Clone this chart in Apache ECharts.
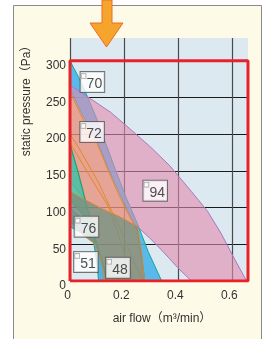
<!DOCTYPE html>
<html>
<head>
<meta charset="utf-8">
<script src="https://cdn.jsdelivr.net/npm/echarts@6/dist/echarts.min.js"></script>
<style>
  html, body { margin: 0; padding: 0; background: #fff; }
  #chart { width: 266px; height: 339px; }
</style>
</head>
<body>
<div id="chart"></div>
<script>
// ===== axis ticks =====
const xTicks = [0, 0.2, 0.4, 0.6];            // air flow m3/min
const yTicks = [0, 50, 100, 150, 200, 250, 300]; // static pressure Pa
const xMax = 0.66;
const yMax = 331;

// ===== fan ranges: [flow, pressure], upper curve and lower curve =====
const fan70Upper = [[0, 300], [0.03, 279], [0.065, 251], [0.1, 220], [0.13, 190], [0.17, 150], [0.21, 112], [0.25, 78], [0.29, 40], [0.34, 0]];
const fan70Lower = [[0, 262], [0.046, 226], [0.1, 192], [0.14, 155], [0.18, 122], [0.215, 95], [0.25, 70], [0.265, 35], [0.277, 0]];

const fan94Upper = [[0, 267], [0.065, 251], [0.15, 230], [0.22, 208], [0.3, 182], [0.37, 157], [0.45, 122], [0.51, 95], [0.56, 65], [0.61, 30], [0.655, 0]];
const fan94Lower = [[0, 135], [0.058, 110], [0.12, 98], [0.18, 88], [0.25, 74], [0.3, 57], [0.35, 38], [0.4, 18], [0.45, 0]];

const fan72Upper = [[0, 258], [0.046, 222], [0.1, 188], [0.14, 152], [0.18, 118], [0.215, 92], [0.25, 68], [0.263, 35], [0.275, 0]];
const fan72Lower = [[0, 188], [0.03, 150], [0.058, 110], [0.08, 80], [0.1, 40], [0.115, 0]];

// extra curve pair crossing the 72 range
const fan72bUpper = [[0, 200], [0.03, 183], [0.106, 134], [0.188, 69], [0.27, 0]];
const fan72bLower = [[0, 188], [0.07, 145], [0.143, 101], [0.2, 40], [0.235, 0]];

const fan48Upper = [[0, 186], [0.03, 148], [0.058, 108], [0.08, 78], [0.1, 50], [0.125, 20], [0.135, 0]];
const fan48Lower = [[0, 110], [0.06, 85], [0.1, 45], [0.125, 0]];

const fan51Upper = [[0, 100], [0.06, 80], [0.1, 50], [0.125, 20], [0.135, 0]];
const fan51Lower = [[0, 74], [0.05, 64], [0.087, 54], [0.1, 25], [0.106, 0]];

const fan76Upper = [[0, 122], [0.058, 110], [0.12, 98], [0.18, 88], [0.25, 74], [0.265, 40], [0.277, 0]];
const fan76Lower = [[0, 80], [0.05, 62], [0.087, 52], [0.106, 38], [0.12, 20], [0.13, 0]];

// ===== model labels and where they sit =====
const labelNames = ['70', '72', '94', '76', '51', '48'];
const labelSpots = [[0.083, 271], [0.082, 203], [0.316, 123], [0.061, 74], [0.059, 26], [0.178, 18]];

// red frame corners
const frame = [[0, 0], [xMax, 0], [xMax, 300], [0, 300], [0, 0]];

const font = '"Liberation Sans", "Noto Sans CJK JP", sans-serif';

// one filled band between two curves
function band(name, upper, lower, fill, edge) {
  const outline = upper.concat(lower.slice().reverse());
  return {
    name: name,
    type: 'custom',
    silent: true,
    data: outline,
    encode: { x: 0, y: 1 },
    renderItem: (params, api) => {
      if (params.dataIndex !== 0) return null;
      return {
        type: 'polygon',
        shape: { points: outline.map(p => api.coord(p)) },
        style: { fill: fill, stroke: edge, lineWidth: 1 }
      };
    }
  };
}

const chart = echarts.init(document.getElementById('chart'));

const option = {
  animation: false,
  textStyle: { fontFamily: font },
  graphic: [
    {
      type: 'rect', z: -100, silent: true,
      shape: { x: 13.5, y: 5.5, width: 248, height: 340 },
      style: { fill: '#fefae8', stroke: '#8a8a8a', lineWidth: 1 }
    },
    {
      type: 'polygon', z: 100, silent: true,
      shape: { points: [[102, 0], [112, 0], [112, 23], [123, 23], [106.5, 47], [90, 23], [102, 23]] },
      style: { fill: '#f5a52c', stroke: '#ee6a2c', lineWidth: 1 }
    },
    {
      type: 'text', z: 100, silent: true,
      x: 27, y: 98, rotation: Math.PI / 2,
      style: { text: 'static pressure（Pa）', font: '12px ' + font, fill: '#333', align: 'center', verticalAlign: 'middle' }
    }
  ],
  grid: {
    left: 70, top: 38, right: 18, bottom: 58,
    show: true, backgroundColor: '#dce9f1', borderWidth: 0,
    outerBoundsMode: 'none'
  },
  xAxis: {
    type: 'value', min: xTicks[0], max: xMax, interval: xTicks[1] - xTicks[0],
    name: 'air flow（m³/min）', nameLocation: 'middle', nameGap: 32,
    nameTextStyle: { fontSize: 12, color: '#333', padding: [0, 0, 0, 6] },
    axisLine: { show: false }, axisTick: { show: false },
    axisLabel: { fontSize: 12, color: '#333', margin: 9, showMaxLabel: false, padding: [0, 5, 0, 0] },
    splitLine: { show: true, showMaxLine: false, lineStyle: { color: '#4a4a4a', width: 1.2 } }
  },
  yAxis: {
    type: 'value', min: yTicks[0], max: yMax, interval: yTicks[1] - yTicks[0],
    axisLine: { show: false }, axisTick: { show: false },
    axisLabel: { fontSize: 12, color: '#333', margin: 4, showMaxLabel: false, verticalAlign: 'top', lineHeight: 10 },
    splitLine: { show: true, showMaxLine: false, lineStyle: { color: '#1a1a1a', width: 1 } }
  },
  series: [
    band('70', fan70Upper, fan70Lower, 'rgba(70,178,232,0.88)', '#10a8a0'),
    band('94', fan94Upper, fan94Lower, 'rgba(225,138,173,0.6)', '#a878c0'),
    band('72', fan72Upper, fan72Lower, 'rgba(240,150,90,0.45)', '#e0882c'),
    band('72b', fan72bUpper, fan72bLower, 'rgba(240,160,90,0.12)', '#e0882c'),
    band('48', fan48Upper, fan48Lower, 'rgba(70,190,155,0.85)', '#00a88c'),
    band('51', fan51Upper, fan51Lower, 'rgba(78,176,230,0.9)', '#00a88c'),
    band('76', fan76Upper, fan76Lower, 'rgba(125,143,128,0.85)', '#d08a3a'),
    {
      type: 'line', silent: true, data: frame, symbol: 'none',
      lineStyle: { color: '#e8222a', width: 3 }
    },
    {
      type: 'scatter', silent: true, symbolSize: 1,
      itemStyle: { color: 'rgba(0,0,0,0)' },
      data: labelSpots.map((p, i) => [p[0], p[1], labelNames[i]]),
      label: {
        show: true, position: 'inside',
        formatter: p => '{s| }{n|' + p.value[2] + '}',
        backgroundColor: '#fff', borderColor: '#555', borderWidth: 1,
        padding: [2, 2, 1, 1],
        rich: {
          s: { width: 4, height: 4, borderColor: '#999', borderWidth: 0.8, backgroundColor: '#fff', verticalAlign: 'top' },
          n: { fontSize: 14, color: '#222', fontFamily: font, padding: [3, 0, 0, 1] }
        }
      }
    }
  ]
};

chart.setOption(option);
</script>
</body>
</html>
